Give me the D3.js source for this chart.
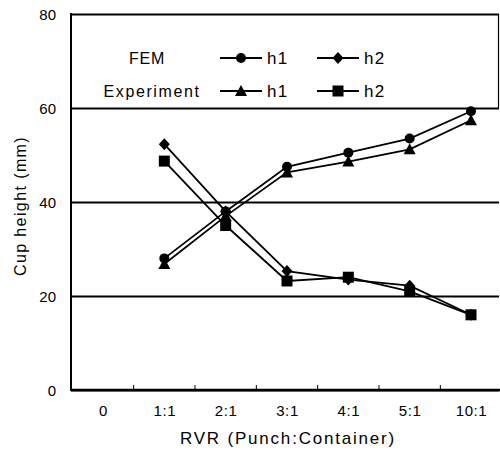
<!DOCTYPE html>
<html>
<head>
<meta charset="utf-8">
<script src="https://cdn.jsdelivr.net/npm/d3@7"></script>
<style>
  body { margin: 0; background: #fff; }
  text { font-family: "Liberation Sans", Arial, sans-serif; fill: #000; }
</style>
</head>
<body>
<div id="chart"></div>
<script>
// chart data
const categories = ["0", "1:1", "2:1", "3:1", "4:1", "5:1", "10:1"];
const dataCats = ["1:1", "2:1", "3:1", "4:1", "5:1", "10:1"];
const femH1 = [28, 38, 47.5, 50.5, 53.5, 59.3];
const femH2 = [52.3, 38, 25.3, 23.5, 22.2, 16];
const expH1 = [26.8, 37, 46.3, 48.6, 51.2, 57.4];
const expH2 = [48.7, 35, 23.2, 24, 21, 16];
const yTicks = [0, 20, 40, 60, 80];

const series = [
  { name: "FEM h1", vals: femH1, shape: "circle" },
  { name: "FEM h2", vals: femH2, shape: "diamond" },
  { name: "Experiment h1", vals: expH1, shape: "triangle" },
  { name: "Experiment h2", vals: expH2, shape: "square" }
];

const W = 500, H = 452;
const margin = { left: 71, top: 14, right: 1, bottom: 62 };

const svg = d3.select("#chart").append("svg")
  .attr("width", W).attr("height", H);

const x = d3.scalePoint()
  .domain(categories)
  .range([103, 471]);

const y = d3.scaleLinear()
  .domain([0, 80])
  .range([H - margin.bottom, margin.top]);

// gridlines + y labels
const yAxis = svg.append("g")
  .attr("transform", `translate(${margin.left},0)`)
  .call(d3.axisLeft(y).tickValues(yTicks).tickSize(-(W - margin.right - margin.left)).tickPadding(15))
yAxis.select(".domain").remove();
yAxis.selectAll(".tick line").attr("stroke", "#000").attr("stroke-width", 1.8);
yAxis.selectAll(".tick text").style("font-size", "15px").attr("dy", "0.36em");

// left axis line
svg.append("line")
  .attr("x1", margin.left).attr("x2", margin.left)
  .attr("y1", margin.top - 1).attr("y2", y(0) + 1)
  .attr("stroke", "#000").attr("stroke-width", 2);

// right edge (legend box side)
svg.append("line")
  .attr("x1", W - 1.5).attr("x2", W - 1.5)
  .attr("y1", margin.top).attr("y2", y(60))
  .attr("stroke", "#000").attr("stroke-width", 1.2);

// bottom axis line (heavy)
svg.append("line")
  .attr("x1", margin.left).attr("x2", W)
  .attr("y1", y(0)).attr("y2", y(0))
  .attr("stroke", "#000").attr("stroke-width", 2.6);

// x labels
const xAxis = svg.append("g")
  .attr("transform", `translate(0,${y(0)})`)
  .call(d3.axisBottom(x).tickSize(0).tickPadding(15));
xAxis.select(".domain").remove();
xAxis.selectAll(".tick text").style("font-size", "15px").style("letter-spacing", "0.6px");

// small upward ticks between categories
const step = x.step();
svg.selectAll("xTicks")
  .data(categories.slice(0, -1))
  .enter()
  .append("line")
  .attr("x1", d => x(d) + step / 2)
  .attr("x2", d => x(d) + step / 2)
  .attr("y1", y(0))
  .attr("y2", y(0) - 5)
  .attr("stroke", "#000").attr("stroke-width", 1);

// axis titles
svg.append("text")
  .attr("x", 288).attr("y", 444)
  .attr("text-anchor", "middle")
  .style("font-size", "17px")
  .style("letter-spacing", "1.8px")
  .text("RVR (Punch:Container)");

svg.append("text")
  .attr("transform", `translate(26,${(y(0) + y(80)) / 2 + 4}) rotate(-90)`)
  .attr("text-anchor", "middle")
  .style("font-size", "16px")
  .style("letter-spacing", "1.4px")
  .text("Cup height (mm)");

// marker drawing
function drawMarker(g, shape, cx, cy) {
  if (shape === "circle") {
    g.append("circle").attr("cx", cx).attr("cy", cy).attr("r", 5).attr("fill", "#000");
  } else if (shape === "diamond") {
    g.append("path")
      .attr("d", `M${cx},${cy - 6}L${cx + 5.5},${cy}L${cx},${cy + 6}L${cx - 5.5},${cy}Z`)
      .attr("fill", "#000");
  } else if (shape === "triangle") {
    g.append("path")
      .attr("d", `M${cx},${cy - 6}L${cx + 6},${cy + 5}L${cx - 6},${cy + 5}Z`)
      .attr("fill", "#000");
  } else {
    g.append("rect").attr("x", cx - 5.5).attr("y", cy - 5.5)
      .attr("width", 11).attr("height", 11).attr("fill", "#000");
  }
}

const line = d3.line()
  .x(d => x(d.cat))
  .y(d => y(d.v));

series.forEach(s => {
  const pts = dataCats.map((c, i) => ({ cat: c, v: s.vals[i] }));
  svg.append("path")
    .datum(pts)
    .attr("d", line)
    .attr("fill", "none")
    .attr("stroke", "#000")
    .attr("stroke-width", 1.8);
  const g = svg.append("g");
  pts.forEach(p => drawMarker(g, s.shape, x(p.cat), y(p.v)));
});

// legend
const legRows = [
  { label: "FEM", y: 58, items: [["circle", "h1"], ["diamond", "h2"]] },
  { label: "Experiment", y: 91, items: [["triangle", "h1"], ["square", "h2"]] }
];
legRows.forEach(r => {
  svg.append("text")
    .attr("x", r.label === "FEM" ? 147 : 152)
    .attr("y", r.y + 6)
    .attr("text-anchor", "middle")
    .style("font-size", "16px")
    .style("letter-spacing", r.label === "FEM" ? "0.8px" : "1.6px")
    .text(r.label);
  r.items.forEach((it, i) => {
    const x0 = 220 + i * 97;
    const lg = svg.append("g");
    lg.append("line")
      .attr("x1", x0).attr("x2", x0 + 42)
      .attr("y1", r.y).attr("y2", r.y)
      .attr("stroke", "#000").attr("stroke-width", 1.8);
    drawMarker(lg, it[0], x0 + 21, r.y);
    svg.append("text")
      .attr("x", x0 + 47).attr("y", r.y + 6)
      .style("font-size", "17px")
      .style("letter-spacing", "1.2px")
      .text(it[1]);
  });
});
</script>
</body>
</html>
